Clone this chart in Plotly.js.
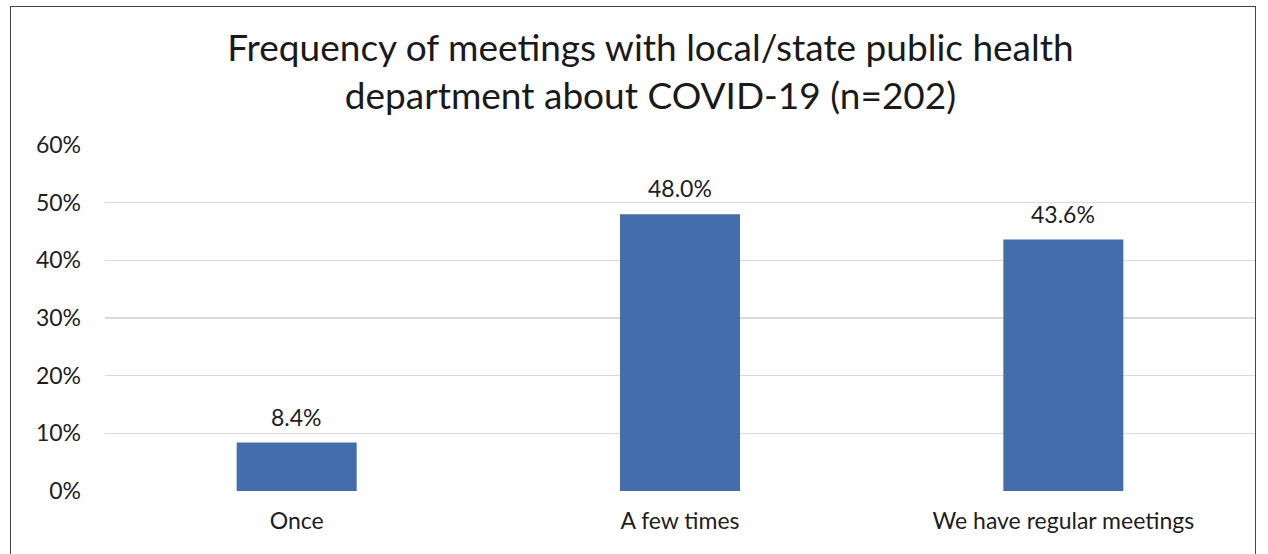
<!DOCTYPE html>
<html>
<head>
<meta charset="utf-8">
<script src="https://cdn.plot.ly/plotly-3.0.1.min.js"></script>
<style>
html,body{margin:0;padding:0;background:#fff;}
#frame{position:absolute;left:10px;top:6px;width:1246px;height:560px;border:1.5px solid #444;box-sizing:border-box;pointer-events:none;}
#chart{width:1268px;height:554px;}
</style>
</head>
<body>
<div id="chart"></div>
<div id="frame"></div>
<script>
const categories = ["Once", "A few times", "We have regular meetings"];
const values = [0.084, 0.480, 0.436];
const valueLabels = ["8.4%", "48.0%", "43.6%"];
const yTickVals = [0, 0.1, 0.2, 0.3, 0.4, 0.5, 0.6];
const yTickText = ["0%", "10%", "20%", "30%", "40%", "50%", "60%"];
const titleText = "Frequency of meetings with local/state public health<br>department about COVID-19 (n=202)";

const font = "Lato, Carlito, 'Open Sans', sans-serif";

const trace = {
  type: "bar",
  x: categories,
  y: values,
  marker: {color: "#446EAB"},
  hoverinfo: "skip"
};

const annotations = categories.map((c, i) => ({
  x: c, y: values[i], xref: "x", yref: "y",
  text: valueLabels[i], showarrow: false,
  yanchor: "bottom", yshift: 10,
  font: {family: font, size: 23, color: "#1e1e1e"}
}));

const layout = {
  width: 1268, height: 554,
  margin: {l: 105, r: 13, t: 145, b: 63},
  paper_bgcolor: "#fff", plot_bgcolor: "#fff",
  title: {
    text: titleText,
    font: {family: font, size: 37, color: "#1a1a1a"},
    x: 0.513, xref: "container", xanchor: "center",
    y: 0.89, yref: "container", yanchor: "top"
  },
  bargap: 0.687,
  showlegend: false,
  xaxis: {
    type: "category",
    tickfont: {family: font, size: 23, color: "#1e1e1e"},
    showgrid: false, zeroline: false, showline: false,
    ticks: "", ticklabelstandoff: 14
  },
  yaxis: {
    range: [0, 0.6],
    tickvals: yTickVals, ticktext: yTickText,
    tickfont: {family: font, size: 23, color: "#1e1e1e"},
    showgrid: true, gridcolor: "#d9d9d9", gridwidth: 1.3,
    zeroline: false, showline: false,
    ticks: "", ticklabelstandoff: 23
  },
  annotations: annotations
};

Plotly.newPlot("chart", [trace], layout, {displayModeBar: false, staticPlot: true});
</script>
</body>
</html>
